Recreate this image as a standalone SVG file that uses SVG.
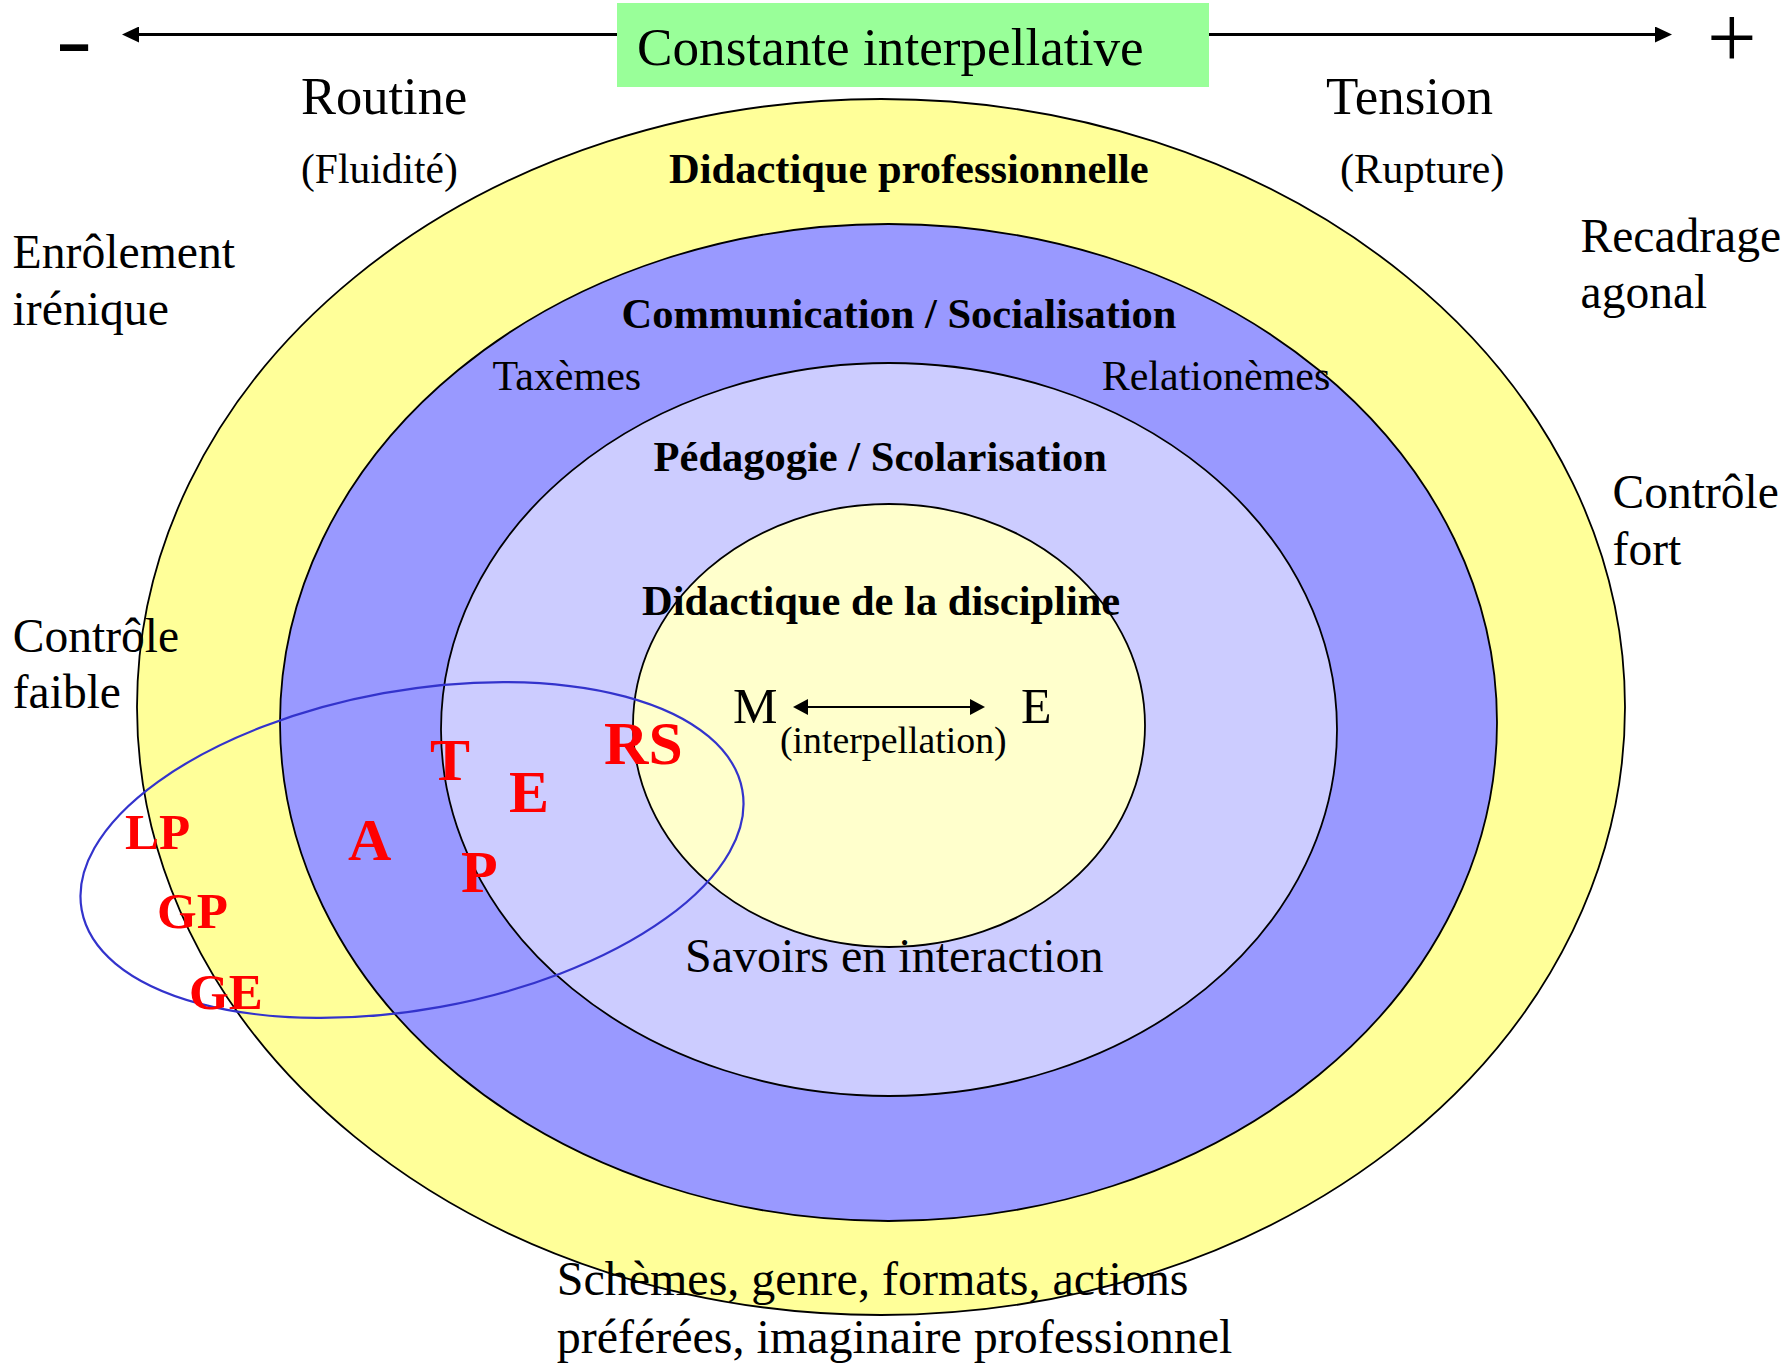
<svg xmlns="http://www.w3.org/2000/svg" width="1787" height="1365" viewBox="0 0 1787 1365">
<style>
.t{font-family:"Liberation Serif","Times New Roman",serif;fill:#000}
.b{font-weight:bold}
.r{font-family:"Liberation Serif","Times New Roman",serif;font-weight:bold;fill:#FF0000}
.ring{stroke:#000;stroke-width:1.8}
</style>
<defs>
<marker id="ah" viewBox="0 0 17 16" refX="12" refY="8" markerWidth="17" markerHeight="16" markerUnits="userSpaceOnUse" orient="auto-start-reverse"><path d="M0,0 L17,8 L0,16 Z" fill="#000"/></marker>
<marker id="ah2" viewBox="0 0 15 16" refX="10" refY="8" markerWidth="15" markerHeight="16" markerUnits="userSpaceOnUse" orient="auto-start-reverse"><path d="M0,0 L15,8 L0,16 Z" fill="#000"/></marker>
</defs>
<rect width="1787" height="1365" fill="#fff"/>
<g id="ring-professionnelle"><ellipse class="ring" cx="881" cy="707" rx="744" ry="608" fill="#FFFF99"/></g>
<g id="ring-communication"><ellipse class="ring" cx="888.5" cy="722.5" rx="608.5" ry="498.5" fill="#9999FF"/></g>
<g id="ring-pedagogie"><ellipse class="ring" cx="889" cy="729.5" rx="448" ry="366.5" fill="#CCCCFF"/></g>
<g id="ring-discipline"><ellipse class="ring" cx="889" cy="725.5" rx="256" ry="221.5" fill="#FFFFCC"/></g>
<g id="zone-ellipse"><ellipse cx="412" cy="850" rx="335.7" ry="159.4" transform="rotate(-10.3 412 850)" fill="none" stroke="#3333CC" stroke-width="2.2"/></g>
<g id="connectors">
<line x1="127" y1="34.5" x2="1667" y2="34.5" stroke="#000" stroke-width="3" marker-start="url(#ah)" marker-end="url(#ah)"/>
<line x1="798" y1="707" x2="980" y2="707" stroke="#000" stroke-width="2" marker-start="url(#ah2)" marker-end="url(#ah2)"/>
</g>
<g id="title"><rect x="617" y="3" width="592" height="84" fill="#99FF99"/><text class="t" x="637" y="65" font-size="53.2">Constante interpellative</text></g>
<g id="minus"><text class="t b" transform="translate(56 66) scale(1.39 1)" x="0" y="0" font-size="78">-</text></g>
<g id="plus"><text class="t" x="1707" y="67" font-size="88">+</text></g>
<g id="routine"><text class="t" x="301" y="114" font-size="52.5">Routine</text><text class="t" x="301" y="183" font-size="41.5">(Fluidité)</text></g>
<g id="tension"><text class="t" x="1326" y="114" font-size="53">Tension</text><text class="t" x="1340" y="183" font-size="42.3">(Rupture)</text></g>
<g id="enrolement"><text class="t" x="12.6" y="268" font-size="47.7">Enrôlement</text><text class="t" x="12.6" y="325" font-size="47.7">irénique</text></g>
<g id="recadrage"><text class="t" x="1580.6" y="252" font-size="47.5">Recadrage</text><text class="t" x="1580.6" y="308" font-size="47.5">agonal</text></g>
<g id="controle-fort"><text class="t" x="1612.6" y="508" font-size="47.5">Contrôle</text><text class="t" x="1612.6" y="565" font-size="47.5">fort</text></g>
<g id="controle-faible"><text class="t" x="12.8" y="652" font-size="47.5">Contrôle</text><text class="t" x="12.8" y="708" font-size="47.5">faible</text></g>
<g id="label-professionnelle"><text class="t b" x="669" y="183" font-size="42.5">Didactique professionnelle</text></g>
<g id="label-communication"><text class="t b" x="621.6" y="328" font-size="42.5">Communication / Socialisation</text></g>
<g id="taxemes"><text class="t" x="492.5" y="390" font-size="42">Taxèmes</text></g>
<g id="relationemes"><text class="t" x="1101.7" y="390" font-size="42">Relationèmes</text></g>
<g id="label-pedagogie"><text class="t b" x="653.6" y="471" font-size="42.5">Pédagogie / Scolarisation</text></g>
<g id="label-discipline"><text class="t b" x="642" y="615" font-size="42.5">Didactique de la discipline</text></g>
<g id="node-M"><text class="t" x="733" y="723" font-size="50">M</text></g>
<g id="node-E"><text class="t" x="1021" y="723" font-size="50">E</text></g>
<g id="interpellation"><text class="t" x="780" y="753" font-size="37.8">(interpellation)</text></g>
<g id="savoirs"><text class="t" x="685" y="972" font-size="48">Savoirs en interaction</text></g>
<g id="schemes"><text class="t" x="556.7" y="1295" font-size="48">Schèmes, genre, formats, actions</text><text class="t" x="556.7" y="1353" font-size="48">préférées, imaginaire professionnel</text></g>
<g id="letters">
<text class="r" x="604" y="764" font-size="61.5">RS</text>
<text class="r" x="430" y="780" font-size="60">T</text>
<text class="r" x="509" y="812" font-size="60">E</text>
<text class="r" x="348" y="860" font-size="60">A</text>
<text class="r" x="461" y="892" font-size="60">P</text>
<text class="r" x="125" y="849" font-size="51">LP</text>
<text class="r" x="157" y="928" font-size="51">GP</text>
<text class="r" x="189" y="1009" font-size="51">GE</text>
</g>
</svg>
